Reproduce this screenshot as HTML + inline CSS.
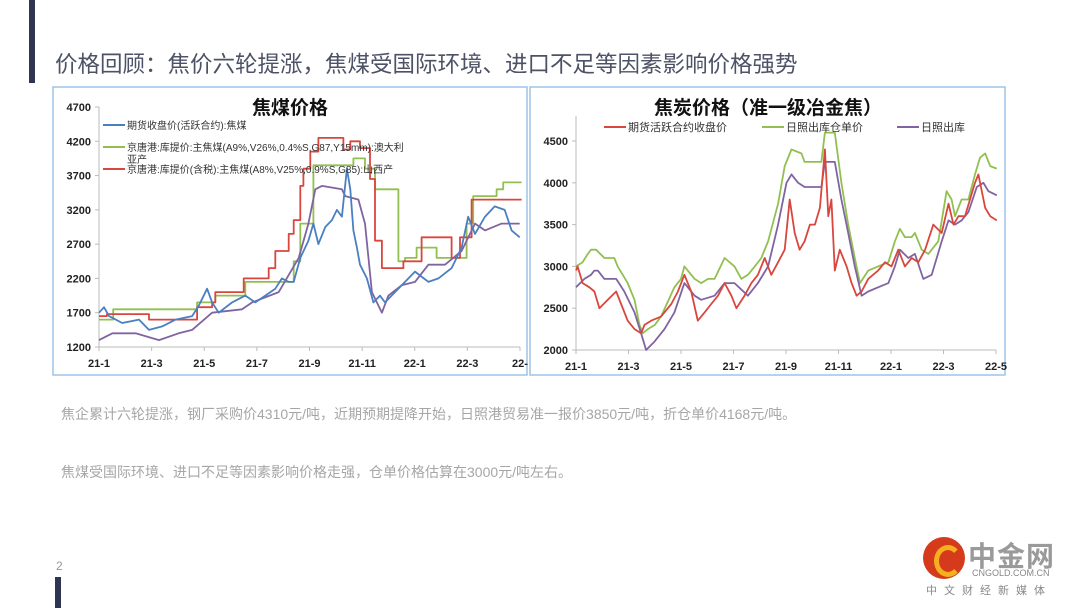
<!DOCTYPE html>
<html><head><meta charset="utf-8">
<style>
body{margin:0;width:1080px;height:608px;background:#fff;position:relative;overflow:hidden;font-family:"Liberation Sans","Noto Sans CJK SC",sans-serif;}
.abs{position:absolute;}
.note{position:absolute;left:61px;font-size:14px;color:#a6a6a6;white-space:nowrap;}
</style></head><body>
<div class="abs" style="left:29px;top:0;width:6px;height:83px;background:#2f3550"></div>
<div class="abs" style="left:55px;top:47px;font-size:22.5px;color:#4d5266;white-space:nowrap">价格回顾：焦价六轮提涨，焦煤受国际环境、进口不足等因素影响价格强势</div>
<svg class="abs" style="left:0;top:0" width="1080" height="608" id="charts"></svg>
<div class="note" style="top:404px">焦企累计六轮提涨，钢厂采购价4310元/吨，近期预期提降开始，日照港贸易准一报价3850元/吨，折仓单价4168元/吨。</div>
<div class="note" style="top:462px">焦煤受国际环境、进口不足等因素影响价格走强，仓单价格估算在3000元/吨左右。</div>
<div class="abs" style="left:56px;top:559px;font-size:12px;color:#999">2</div>
<div class="abs" style="left:55px;top:577px;width:6px;height:31px;background:#2f3550"></div>
<div class="abs" style="left:920px;top:535px;width:150px;height:70px">
 <div class="abs" style="left:3px;top:2px;width:42px;height:42px;border-radius:50%;background:#d63a1c"></div>
 <div class="abs" style="left:14px;top:10px;width:18px;height:22px;border-radius:50%;border:5px solid #f5b020;border-right-color:transparent"></div>
 <div class="abs" style="left:48px;top:0;font-size:28px;font-weight:bold;color:#9a9a9a;letter-spacing:1px">中金网</div>
 <div class="abs" style="left:52px;top:33px;font-size:9px;color:#888">CNGOLD.COM.CN</div>
 <div class="abs" style="left:6px;top:47px;font-size:11px;color:#888;letter-spacing:7px">中文财经新媒体</div>
</div>
<script>
const xTicks=["21-1","21-3","21-5","21-7","21-9","21-11","22-1","22-3","22-"];
const xTicksR=["21-1","21-3","21-5","21-7","21-9","21-11","22-1","22-3","22-5"];
const yTicksL=[1200,1700,2200,2700,3200,3700,4200,4700];
const yTicksR=[2000,2500,3000,3500,4000,4500];
const blueT=[0,.19,.38,.88,1.52,1.90,2.40,2.91,3.54,3.79,4.11,4.30,4.55,5.06,5.56,5.94,6.32,6.70,6.95,7.21,7.40,7.65,7.96,8.15,8.34,8.60,8.85,9.04,9.23,9.42,9.55,9.67,9.80,9.92,10.18,10.43,10.68,10.87,11.25,11.63,12.01,12.52,12.9,13.4,13.78,14.03,14.29,14.67,15.04,15.42,15.68,15.99];
const blueV=[1700,1780,1650,1550,1600,1450,1500,1600,1650,1800,2050,1850,1700,1850,1950,1850,1950,2050,2200,2150,2150,2500,2750,3000,2700,2950,3050,3200,3100,3800,3500,2900,2650,2400,2200,1850,1950,1850,2000,2150,2300,2150,2200,2350,2650,3100,2850,3100,3250,3200,2900,2800];
const purpleLT=[0,.51,1.39,2.28,3.03,3.54,4.30,5.44,5.82,6.83,7.59,7.96,8.22,8.47,9.23,9.36,9.86,10.11,10.37,10.75,11.0,11.5,12.01,12.52,13.15,13.78,14.29,14.67,15.30,15.99];
const purpleLV=[1300,1400,1400,1300,1400,1450,1700,1750,1850,2000,2500,3000,3500,3550,3500,3400,3350,3000,2000,1700,1950,2100,2150,2400,2400,2600,3000,2900,3000,3000];
const redLT=[0,0.3,1.9,3.73,4.3,4.42,5.5,6.45,6.7,7.21,7.40,7.65,7.77,8.03,8.34,9.29,9.55,9.92,10.30,10.49,10.75,11.57,12.26,13.4,13.72,14.16];
const redLV=[1650,1680,1600,1780,1850,2000,2200,2350,2600,2850,3050,3550,3800,4050,4250,4080,4200,4100,3650,2750,2350,2450,2800,2500,2800,3350];
const greenLT=[0,0.54,3.73,4.42,5.56,7.40,7.65,8.15,9.67,10.11,10.49,11.38,11.63,12.07,12.83,13.97,14.22,15.11,15.36];
const greenLV=[1600,1750,1850,1950,2150,2450,3000,3850,3950,3800,3500,2450,2500,2650,2500,3000,3400,3500,3600];
const redRT=[0,.06,.25,.51,.70,.89,1.21,1.53,1.72,1.97,2.23,2.48,2.61,2.86,3.24,3.63,3.88,4.13,4.39,4.64,4.90,5.15,5.41,5.66,5.92,6.11,6.42,6.68,6.93,7.19,7.44,7.70,7.95,8.14,8.33,8.52,8.71,8.91,9.10,9.29,9.48,9.61,9.73,9.86,10.05,10.31,10.50,10.69,10.88,11.13,11.51,11.77,12.02,12.28,12.53,12.79,13.04,13.30,13.61,13.93,14.19,14.38,14.57,14.82,15.20,15.33,15.59,15.78,16.03];
const redRV=[2950,3000,2800,2750,2700,2500,2600,2700,2550,2350,2250,2200,2300,2350,2400,2550,2700,2900,2700,2350,2450,2550,2650,2800,2650,2500,2650,2800,2900,3100,2900,3050,3200,3800,3400,3200,3300,3500,3500,3700,4400,3600,3800,2950,3200,3000,2800,2650,2700,2850,2950,3050,3000,3200,3000,3100,3050,3200,3500,3400,3750,3500,3600,3600,4000,4100,3700,3600,3550];
const greenRT=[0,.25,.45,.57,.76,1.08,1.46,1.59,1.97,2.23,2.42,2.54,2.74,3.0,3.24,3.75,4.0,4.13,4.26,4.52,4.77,5.03,5.28,5.66,6.04,6.30,6.55,6.81,7.06,7.32,7.70,7.95,8.21,8.59,8.71,9.35,9.48,9.86,10.11,10.37,10.62,10.82,11.13,11.51,11.90,12.15,12.34,12.53,12.79,12.91,13.17,13.42,13.80,14.12,14.31,14.44,14.69,14.95,15.20,15.39,15.59,15.78,16.03];
const greenRV=[3000,3050,3150,3200,3200,3100,3100,3000,2800,2600,2300,2200,2250,2300,2400,2750,2850,3000,2950,2850,2800,2850,2850,3100,3000,2850,2900,3000,3100,3300,3750,4200,4400,4350,4250,4250,4600,4600,4000,3500,3100,2800,2950,3000,3050,3300,3450,3350,3350,3400,3200,3150,3300,3900,3800,3600,3800,3800,4100,4300,4350,4200,4170];
const purpleRT=[0,.32,.57,.70,.83,1.08,1.53,1.84,2.23,2.48,2.67,2.99,3.37,3.75,4.13,4.52,4.77,5.28,5.66,6.04,6.55,6.93,7.32,7.70,8.02,8.21,8.46,8.71,9.35,9.48,9.86,10.11,10.37,10.62,10.88,11.13,11.51,11.90,12.15,12.34,12.66,12.91,13.23,13.55,13.93,14.19,14.44,14.69,14.95,15.27,15.52,15.71,16.03];
const purpleRV=[2750,2850,2900,2950,2950,2850,2850,2700,2450,2200,2000,2100,2250,2450,2800,2650,2600,2650,2800,2800,2650,2800,3000,3500,4000,4100,4000,3950,3950,4250,4250,3800,3400,3000,2650,2700,2750,2800,3000,3200,3100,3150,2850,2900,3300,3550,3500,3550,3650,3950,4000,3900,3850];

const svg=document.getElementById('charts');
const NS='http://www.w3.org/2000/svg';
function mk(tag,attrs,parent){const e=document.createElementNS(NS,tag);for(const k in attrs)e.setAttribute(k,attrs[k]);(parent||svg).appendChild(e);return e;}
function chart(cfg){
  const g=mk('g',{});
  
  
  const box=mk('rect',{x:cfg.box[0],y:cfg.box[1],width:cfg.box[2],height:cfg.box[3],fill:'#fff',stroke:'#9dc3e6','stroke-width':1.5},g);
  
  
  const X=t=>cfg.x0+(cfg.x1-cfg.x0)*t/16;
  const Y=v=>cfg.y0+(cfg.y1-cfg.y0)*(v-cfg.vmin)/(cfg.vmax-cfg.vmin);
  mk('line',{x1:cfg.x0,y1:Y(cfg.vmin),x2:cfg.x0,y2:Y(cfg.vmax)-(cfg.extraTop||0),stroke:'#bbb'},g);
  mk('line',{x1:cfg.x0,y1:Y(cfg.vmin),x2:cfg.x1,y2:Y(cfg.vmin),stroke:'#bbb'},g);
  cfg.yt.forEach(v=>{
    mk('line',{x1:cfg.x0-4,x2:cfg.x0,y1:Y(v),y2:Y(v),stroke:'#bbb'},g);
    const t=mk('text',{x:cfg.x0-8,y:Y(v)+4,'text-anchor':'end','font-size':11,'font-weight':'bold',fill:'#222'},g);
    t.textContent=v;
    
    
  });
  cfg.xt.forEach((s,i)=>{
    const xx=X(i*2);
    mk('line',{x1:xx,x2:xx,y1:Y(cfg.vmin),y2:Y(cfg.vmin)+4,stroke:'#bbb'},g);
    const t=mk('text',{x:xx,y:Y(cfg.vmin)+20,'text-anchor':'middle','font-size':11,'font-weight':'bold',fill:'#222'},g);
    t.textContent=s;
    
    
  });
  const tt=mk('text',{x:cfg.titleX,y:cfg.box[1]+27,'text-anchor':'middle','font-size':19,'font-weight':'bold',fill:'#111'},g);
  tt.textContent=cfg.title;
  
  
  cfg.series.forEach(s=>{
    let d='';
    const n=Math.min(s.t.length,s.v.length);
    for(let i=0;i<n;i++){
      const px=X(s.t[i]).toFixed(1),py=Y(s.v[i]).toFixed(1);
      if(i===0)d+='M'+px+' '+py;
      else if(s.step)d+='H'+px+'V'+py;
      else d+='L'+px+' '+py;
    }
    if(s.step)d+='H'+X(s.end).toFixed(1);
    const p=mk('path',{d:d,fill:'none',stroke:s.color,'stroke-width':1.8,'stroke-linejoin':'round'},g);
    
    
  });
  cfg.legend.forEach(l=>{
    mk('line',{x1:l.x,x2:l.x+22,y1:l.y,y2:l.y,stroke:l.color,'stroke-width':2},g);
    l.text.forEach((line,k)=>{
      const t=mk('text',{x:l.x+24,y:l.y+4+k*12,'font-size':l.fs,fill:'#333'},g);
      t.textContent=line;
      
      
    });
  });
}
chart({name:'coking-coal-chart',box:[53,87,474,288],x0:99,x1:520,y0:347,y1:107,vmin:1200,vmax:4700,
  yt:yTicksL,xt:xTicks,title:'焦煤价格',titleX:290,
  series:[
    {name:'jingtang-australia-line',t:greenLT,v:greenLV,color:'#92c050',step:true,end:16.06},
    {name:'jingtang-shanxi-line',t:redLT,v:redLV,color:'#d9463e',step:true,end:16.06},
    {name:'rizhao-purple-line',t:purpleLT,v:purpleLV,color:'#8064a2'},
    {name:'futures-close-line',t:blueT,v:blueV,color:'#4a7fc1'}
  ],
  legend:[
    {x:103,y:125,color:'#4a7fc1',fs:10,text:['期货收盘价(活跃合约):焦煤']},
    {x:103,y:147,color:'#92c050',fs:10,text:['京唐港:库提价:主焦煤(A9%,V26%,0.4%S,G87,Y15mm):澳大利','亚产']},
    {x:103,y:169,color:'#d9463e',fs:10,text:['京唐港:库提价(含税):主焦煤(A8%,V25%,0.9%S,G85):山西产']}
  ]});
chart({name:'coke-chart',box:[530,87,475,288],x0:576,x1:996,y0:350,y1:141,vmin:2000,vmax:4500,extraTop:25,
  yt:yTicksR,xt:xTicksR,title:'焦炭价格（准一级冶金焦）',titleX:768,
  series:[
    {name:'rizhao-warehouse-line',t:greenRT,v:greenRV,color:'#92c050'},
    {name:'rizhao-outbound-line',t:purpleRT,v:purpleRV,color:'#8064a2'},
    {name:'futures-active-line',t:redRT,v:redRV,color:'#d9463e'}
  ],
  legend:[
    {x:604,y:127,color:'#d9463e',fs:11,text:['期货活跃合约收盘价']},
    {x:762,y:127,color:'#92c050',fs:11,text:['日照出库仓单价']},
    {x:897,y:127,color:'#8064a2',fs:11,text:['日照出库']}
  ]});
</script>
</body></html>
